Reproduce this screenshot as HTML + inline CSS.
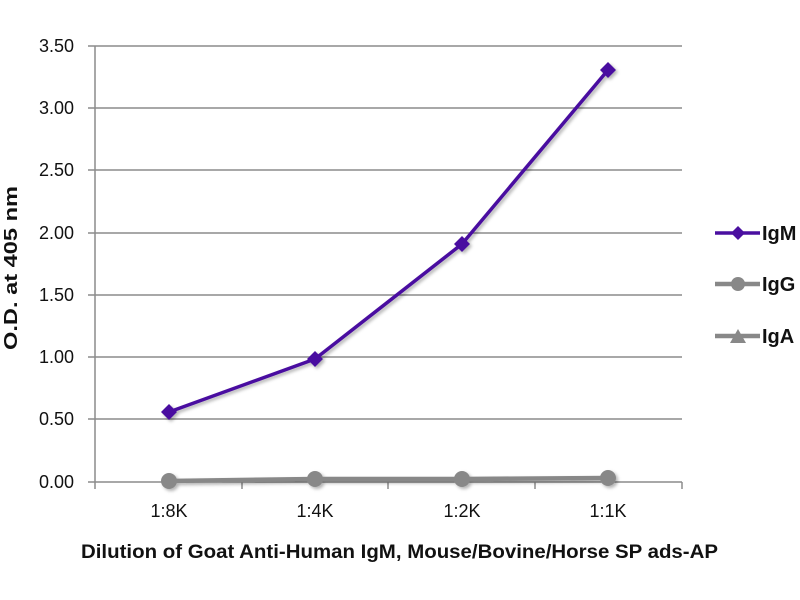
<!DOCTYPE html>
<html><head><style>body{margin:0;background:#fff}svg{display:block}</style></head><body>
<svg width="800" height="600" xmlns="http://www.w3.org/2000/svg" font-family="Liberation Sans, sans-serif">
<defs><filter id="s" x="-20%" y="-20%" width="140%" height="140%"><feDropShadow dx="2" dy="2" stdDeviation="1.5" flood-color="#000" flood-opacity="0.3"/></filter></defs>
<g stroke="#8c8c8c" stroke-width="1.5">
<line x1="88" y1="46" x2="682" y2="46"/><line x1="88" y1="108" x2="682" y2="108"/>
<line x1="88" y1="170" x2="682" y2="170"/><line x1="88" y1="233" x2="682" y2="233"/>
<line x1="88" y1="295" x2="682" y2="295"/><line x1="88" y1="357" x2="682" y2="357"/>
<line x1="88" y1="419" x2="682" y2="419"/><line x1="88" y1="482" x2="682" y2="482"/>
<line x1="95" y1="46" x2="95" y2="489"/>
<line x1="242" y1="482" x2="242" y2="489"/><line x1="388" y1="482" x2="388" y2="489"/>
<line x1="535" y1="482" x2="535" y2="489"/><line x1="682" y1="482" x2="682" y2="489"/>
</g>
<g font-size="18" fill="#111" text-anchor="end">
<text x="74" y="52">3.50</text><text x="74" y="114">3.00</text><text x="74" y="176">2.50</text>
<text x="74" y="239">2.00</text><text x="74" y="301">1.50</text><text x="74" y="363">1.00</text>
<text x="74" y="425">0.50</text><text x="74" y="488">0.00</text>
</g>
<g font-size="18" fill="#111" text-anchor="middle">
<text x="169" y="517">1:8K</text><text x="315" y="517">1:4K</text><text x="462" y="517">1:2K</text><text x="608" y="517">1:1K</text>
</g>
<text x="81" y="558" font-size="19" font-weight="bold" fill="#111" textLength="637" lengthAdjust="spacingAndGlyphs">Dilution of Goat Anti-Human IgM, Mouse/Bovine/Horse SP ads-AP</text>
<text transform="translate(17,350) rotate(-90)" font-size="18" font-weight="bold" fill="#111" textLength="164" lengthAdjust="spacingAndGlyphs">O.D. at 405 nm</text>
<g filter="url(#s)">
<polyline points="169,481 315,479 462,479 608,478" fill="none" stroke="#888" stroke-width="4.5"/>
<g fill="#888"><circle cx="169" cy="481" r="8"/><circle cx="315" cy="479" r="8"/><circle cx="462" cy="479" r="8"/><circle cx="608" cy="478" r="8"/></g>
<polyline points="169,412 315,359 462,244 608,70" fill="none" stroke="#4a0fa0" stroke-width="3.5"/>
<g fill="#4a0fa0">
<polygon points="169,404 177,412 169,420 161,412"/><polygon points="315,351 323,359 315,367 307,359"/>
<polygon points="462,236 470,244 462,252 454,244"/><polygon points="608,62 616,70 608,78 600,70"/>
</g>
</g>
<g>
<line x1="715" y1="233" x2="760" y2="233" stroke="#4a0fa0" stroke-width="3.5"/>
<polygon points="738,226 745,233 738,240 731,233" fill="#4a0fa0"/>
<line x1="715" y1="284" x2="760" y2="284" stroke="#888" stroke-width="4.5"/>
<circle cx="738" cy="284" r="7" fill="#888"/>
<line x1="715" y1="336" x2="760" y2="336" stroke="#888" stroke-width="4.5"/>
<polygon points="738,329 746,343 730,343" fill="#888"/>
</g>
<g font-size="20" font-weight="bold" fill="#111">
<text x="762" y="240">IgM</text><text x="762" y="291">IgG</text><text x="762" y="343">IgA</text>
</g>
</svg>
</body></html>
